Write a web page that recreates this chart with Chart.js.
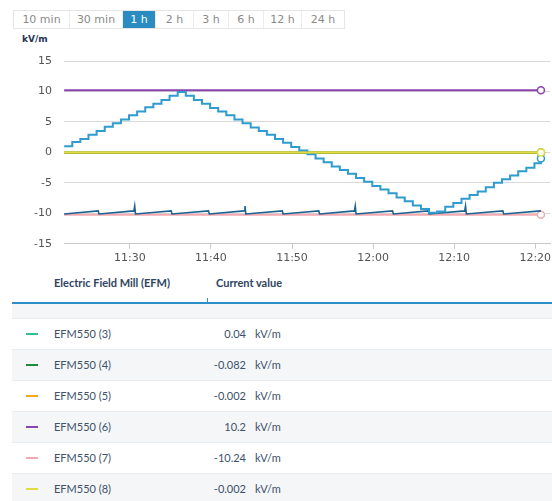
<!DOCTYPE html>
<html>
<head>
<meta charset="utf-8">
<script src="https://cdn.jsdelivr.net/npm/chart.js@4.4.0/dist/chart.umd.min.js"></script>
<style>
  html, body { margin: 0; padding: 0; background: #fff; width: 552px; height: 501px; overflow: hidden; position: relative; }
  .rangos { position: absolute; left: 13px; top: 10px; height: 19px; border: 1px solid #e6e6e6; display: flex; font: 11px "DejaVu Sans", sans-serif; color: #8a8a8a; box-sizing: border-box; }
  .rangos span { display: block; line-height: 17px; text-align: center; border-left: 1px solid #ececec; box-sizing: border-box; }
  .rangos span:first-child { border-left: none; }
  .rangos span.activo { background: #2a8cc0; color: #fff; }
  .unidad { position: absolute; left: 22px; top: 34px; font: bold 9px "DejaVu Sans", sans-serif; color: #1f3558; }
  .grafica { position: absolute; left: 0; top: 0; width: 556px; height: 268px; }
  .cabecera { position: absolute; top: 276px; font: bold 11px Lato, sans-serif; color: #2e4460; }
  .linea-azul { position: absolute; left: 12px; top: 302px; width: 540px; height: 2px; background: #2d8fc6; }
  .marca { position: absolute; left: 207px; top: 298px; width: 1px; height: 4px; background: #2d8fc6; }
  .banda { position: absolute; left: 12px; top: 304px; width: 540px; height: 14px; background: #f4f6f8; }
  .fila { position: absolute; left: 12px; width: 540px; height: 31px; border-top: 1px solid #e9ecef; box-sizing: border-box; font: 11px Lato, sans-serif; color: #3d5169; }
  .fila .muestra { position: absolute; left: 14px; top: 14px; width: 12px; height: 2px; }
  .fila .nombre { position: absolute; left: 42px; top: 8px; }
  .fila .valor { position: absolute; right: 306px; top: 8px; }
  .fila .uds { position: absolute; left: 243px; top: 8px; }
</style>
</head>
<body>
<div class="rangos" id="rangos"></div>
<div class="unidad">kV/m</div>
<div class="grafica"><canvas id="chartEFM"></canvas></div>
<div class="cabecera" style="left:54px">Electric Field Mill (EFM)</div>
<div class="cabecera" style="left:216px">Current value</div>
<div class="linea-azul"></div>
<div class="marca"></div>
<div class="banda"></div>
<div id="tabla"></div>

<script>
// ── Botones de rango ──────────────────────────────────────────
const rangos = ['10 min', '30 min', '1 h', '2 h', '3 h', '6 h', '12 h', '24 h'];
const anchosRango = [55, 53, 33, 38, 35, 35, 38, 43];
const rangoActivo = '1 h';

// ── Eje X (minutos desde las 11:00) ───────────────────────────
const xMin = 21.88;
const xMax = 81.88;
const xTicks = [30, 40, 50, 60, 70, 80];
const xTickLabels = ['11:30', '11:40', '11:50', '12:00', '12:10', '12:20'];
const yTicks = [-15, -10, -5, 0, 5, 10, 15];

// ── EFM550 (1): escalera triangular ───────────────────────────
const efm1Tiempo = [
    21.9, 22.9, 23.9, 24.9, 25.9, 26.9, 27.9, 28.9, 29.9, 30.9,
    31.9, 32.9, 33.9, 34.9, 35.9, 36.9, 37.9, 38.9, 39.9, 40.9,
    41.9, 42.9, 43.9, 44.9, 45.9, 46.9, 47.9, 48.9, 49.9, 50.9,
    51.9, 52.9, 53.9, 54.9, 55.9, 56.9, 57.9, 58.9, 59.9, 60.9,
    61.9, 62.9, 63.9, 64.9, 65.9, 66.9, 67.9, 68.9, 69.9, 70.9,
    71.9, 72.9, 73.9, 74.9, 75.9, 76.9, 77.9, 78.9, 79.9, 80.7
];
const efm1Valor = [
     1.0,  1.7,  2.2,  2.9,  3.5,  4.2,  4.8,  5.4,  6.1,  6.7,
     7.4,  8.0,  8.6,  9.3,  9.9,  9.3,  8.6,  8.0,  7.3,  6.7,
     6.1,  5.4,  4.8,  4.1,  3.5,  2.9,  2.2,  1.6,  0.9,  0.3,
    -0.3, -1.0, -1.6, -2.3, -2.9, -3.5, -4.2, -4.8, -5.5, -6.1,
    -6.7, -7.4, -8.0, -8.7, -9.3, -9.9, -9.7, -8.9, -8.3, -7.6,
    -7.0, -6.4, -5.7, -5.0, -4.4, -3.8, -3.1, -2.5, -1.8, -1.0
];

// ── EFM550 (2): diente de sierra cerca de -10 ─────────────────
const efm2Tiempo = [
    21.9, 26.1, 26.2, 30.5, 30.6, 30.7, 35.1, 35.2, 39.7, 39.8,
    44.1, 44.2, 44.3, 48.8, 48.9, 53.3, 53.4, 57.7, 57.8, 57.9,
    62.4, 62.5, 66.8, 66.9, 71.3, 71.4, 71.5, 76.0, 76.1, 80.7
];
const efm2Valor = [
    -10.1, -9.6, -10.1, -9.6, -8.8, -10.1, -9.6, -10.1, -9.6, -10.1,
     -9.6, -8.8, -10.1, -9.6, -10.1, -9.6, -10.1, -9.6, -8.8, -10.1,
     -9.6, -10.1, -9.6, -10.1, -9.6, -8.8, -10.1, -9.6, -10.1, -9.6
];

// ── Sensores de la tabla (valores constantes) ─────────────────
const nombresTabla = ['EFM550 (3)', 'EFM550 (4)', 'EFM550 (5)', 'EFM550 (6)', 'EFM550 (7)', 'EFM550 (8)'];
const valoresActuales = [0.04, -0.082, -0.002, 10.2, -10.24, -0.002];
const textosValor = ['0.04', '-0.082', '-0.002', '10.2', '-10.24', '-0.002'];
const tiempoPlano = [21.9, 80.7];

// ── Colores ───────────────────────────────────────────────────
const COLOR_EFM1 = '#2f9bcf';
const COLOR_EFM2 = '#1f6291';
const coloresTabla = ['#2fbf8c', '#1f8a3c', '#f5a623', '#8a44ad', '#f2aab0', '#e2dc44'];
// orden de dibujo (menor = encima)
const ordenTabla = [7, 6, 5, 4, 8, 1];

// ── Botones ───────────────────────────────────────────────────
const cajaRangos = document.getElementById('rangos');
rangos.forEach((r, i) => {
    const s = document.createElement('span');
    s.textContent = r;
    s.style.width = anchosRango[i] + 'px';
    if (r === rangoActivo) s.className = 'activo';
    cajaRangos.appendChild(s);
});

// ── Tabla ─────────────────────────────────────────────────────
const tabla = document.getElementById('tabla');
nombresTabla.forEach((n, i) => {
    const f = document.createElement('div');
    f.className = 'fila';
    f.style.top = (318 + i * 31) + 'px';
    f.style.background = i % 2 ? '#f4f6f8' : '#fff';
    f.innerHTML = `<span class="muestra" style="background:${coloresTabla[i]}"></span>` +
        `<span class="nombre">${n}</span><span class="valor">${textosValor[i]}</span><span class="uds">kV/m</span>`;
    tabla.appendChild(f);
});

// ── Helpers ───────────────────────────────────────────────────
function puntos(ts, vs) {
    return ts.map((t, i) => ({ x: t, y: vs[i] }));
}
function soloUltimo(ctx) {
    return ctx.dataIndex === ctx.dataset.data.length - 1 ? 3.5 : 0;
}

const datasets = [
    {
        label: 'EFM550 (1)',
        data: puntos(efm1Tiempo, efm1Valor),
        borderColor: COLOR_EFM1,
        borderWidth: 2,
        stepped: true,
        order: 2,
        pointRadius: soloUltimo
    },
    {
        label: 'EFM550 (2)',
        data: puntos(efm2Tiempo, efm2Valor),
        borderColor: COLOR_EFM2,
        borderWidth: 1.6,
        order: 3,
        pointRadius: 0
    }
];
nombresTabla.forEach((n, i) => {
    datasets.push({
        label: n,
        data: puntos(tiempoPlano, [valoresActuales[i], valoresActuales[i]]),
        borderColor: coloresTabla[i],
        borderWidth: 2,
        order: ordenTabla[i],
        pointRadius: soloUltimo
    });
});
datasets.forEach(d => {
    d.pointBackgroundColor = '#fff';
    d.pointBorderColor = d.borderColor;
    d.pointBorderWidth = 1.5;
});

// ── Gráfica ───────────────────────────────────────────────────
new Chart(document.getElementById('chartEFM'), {
    type: 'line',
    data: { datasets },
    options: {
        animation: false,
        responsive: true,
        maintainAspectRatio: false,
        layout: { padding: { top: 61, right: 0, bottom: 0, left: 0 } },
        plugins: { legend: { display: false }, tooltip: { enabled: false } },
        scales: {
            x: {
                type: 'linear',
                min: xMin,
                max: xMax,
                afterBuildTicks: s => { s.ticks = xTicks.map(v => ({ value: v })); },
                ticks: {
                    callback: v => xTickLabels[xTicks.indexOf(v)],
                    color: '#555',
                    font: { family: 'DejaVu Sans', size: 11 },
                    maxRotation: 0,
                    padding: 3
                },
                grid: { drawOnChartArea: false, drawTicks: true, tickLength: 5, color: '#c8c8c8' },
                border: { display: true, color: '#c8c8c8' }
            },
            y: {
                min: -15,
                max: 15,
                afterBuildTicks: s => { s.ticks = yTicks.map(v => ({ value: v })); },
                afterFit: s => { s.width = 64; },
                ticks: {
                    color: '#555',
                    font: { family: 'DejaVu Sans', size: 11 },
                    padding: 12
                },
                grid: { drawTicks: false, color: '#d9d9d9' },
                border: { display: false }
            }
        }
    }
});
</script>
</body>
</html>
